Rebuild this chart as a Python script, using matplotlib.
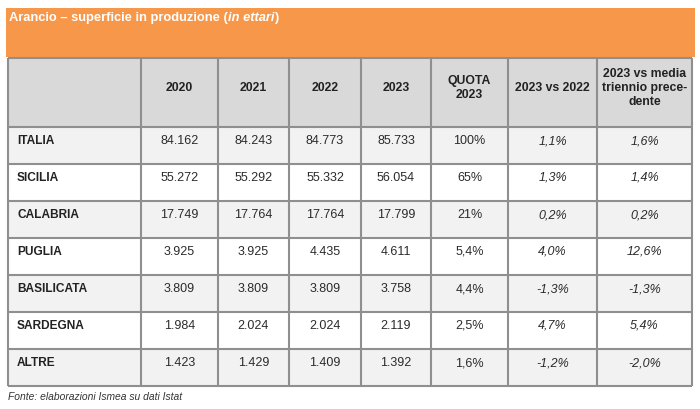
import matplotlib.pyplot as plt
from matplotlib.patches import Rectangle

title = "Arancio \u2013 superficie in produzione ("
title_it = "in ettari"
source = "Fonte: elaborazioni Ismea su dati Istat"

headers = ["", "2020", "2021", "2022", "2023", "QUOTA\n2023", "2023 vs 2022",
           "2023 vs media\ntriennio prece-\ndente"]
regions = ["ITALIA", "SICILIA", "CALABRIA", "PUGLIA", "BASILICATA", "SARDEGNA", "ALTRE"]
y2020 = ["84.162", "55.272", "17.749", "3.925", "3.809", "1.984", "1.423"]
y2021 = ["84.243", "55.292", "17.764", "3.925", "3.809", "2.024", "1.429"]
y2022 = ["84.773", "55.332", "17.764", "4.435", "3.809", "2.024", "1.409"]
y2023 = ["85.733", "56.054", "17.799", "4.611", "3.758", "2.119", "1.392"]
quota = ["100%", "65%", "21%", "5,4%", "4,4%", "2,5%", "1,6%"]
var_22 = ["1,1%", "1,3%", "0,2%", "4,0%", "-1,3%", "4,7%", "-1,2%"]
var_media = ["1,6%", "1,4%", "0,2%", "12,6%", "-1,3%", "5,4%", "-2,0%"]

columns = [regions, y2020, y2021, y2022, y2023, quota, var_22, var_media]

# layout in pixels
col_x = [8, 141, 218, 289, 361, 431, 508, 597, 692]
head_top, head_bot = 58, 127
row_h = 37
border = "#8f8f8f"
font = ["Liberation Sans", "DejaVu Sans"]

fig = plt.figure(figsize=(7, 4.09), dpi=100)
ax = fig.add_axes([0, 0, 1, 1])
ax.set_xlim(0, 700)
ax.set_ylim(409, 0)
ax.axis("off")

# orange banner
ax.add_patch(Rectangle((6, 8), 689, 49, facecolor="#f7974a", edgecolor="none"))
t = ax.text(9, 18, title, color="white", fontsize=9.3, fontweight="bold",
            family=font, va="center", ha="left")
fig.canvas.draw()
bb = t.get_window_extent().transformed(ax.transData.inverted())
t2 = ax.text(bb.x1, 18, title_it, color="white", fontsize=9.3, fontweight="bold",
             style="italic", family=font, va="center", ha="left")
fig.canvas.draw()
bb2 = t2.get_window_extent().transformed(ax.transData.inverted())
ax.text(bb2.x1, 18, ")", color="white", fontsize=9.3, fontweight="bold",
        family=font, va="center", ha="left")

# header row
ax.add_patch(Rectangle((col_x[0], head_top), col_x[-1] - col_x[0], head_bot - head_top,
                       facecolor="#d9d9d9", edgecolor="none"))
for j, h in enumerate(headers):
    cx = (col_x[j] + col_x[j + 1]) / 2
    ax.text(cx, 88, h, ha="center", va="center", fontsize=8.8, fontweight="bold",
            family=font, color="#222222", linespacing=1.2)

# body rows
for i in range(len(regions)):
    top = head_bot + i * row_h
    fill = "#f2f2f2" if i % 2 == 0 else "white"
    ax.add_patch(Rectangle((col_x[0], top), col_x[-1] - col_x[0], row_h,
                           facecolor=fill, edgecolor="none"))
    for j, col in enumerate(columns):
        if j == 0:
            ax.text(col_x[0] + 9, top + 14, col[i], ha="left", va="center", fontsize=8.6,
                    fontweight="bold", family=font, color="#222222")
        else:
            cx = (col_x[j] + col_x[j + 1]) / 2
            ax.text(cx, top + 14, col[i], ha="center", va="center", fontsize=9,
                    family=font, color="#2b2b2b",
                    style="italic" if j >= 6 else "normal")

bottom = head_bot + len(regions) * row_h
# grid lines
for x in col_x:
    ax.plot([x, x], [head_top, bottom], color=border, lw=1.5, solid_capstyle="butt")
for y in [head_top, head_bot] + [head_bot + k * row_h for k in range(1, len(regions) + 1)]:
    ax.plot([col_x[0], col_x[-1]], [y, y], color=border, lw=1.5, solid_capstyle="butt")

ax.text(8, 397, source, ha="left", va="center", fontsize=7.4, style="italic",
        family=font, color="#333333")

fig.savefig("out.png", dpi=100)
